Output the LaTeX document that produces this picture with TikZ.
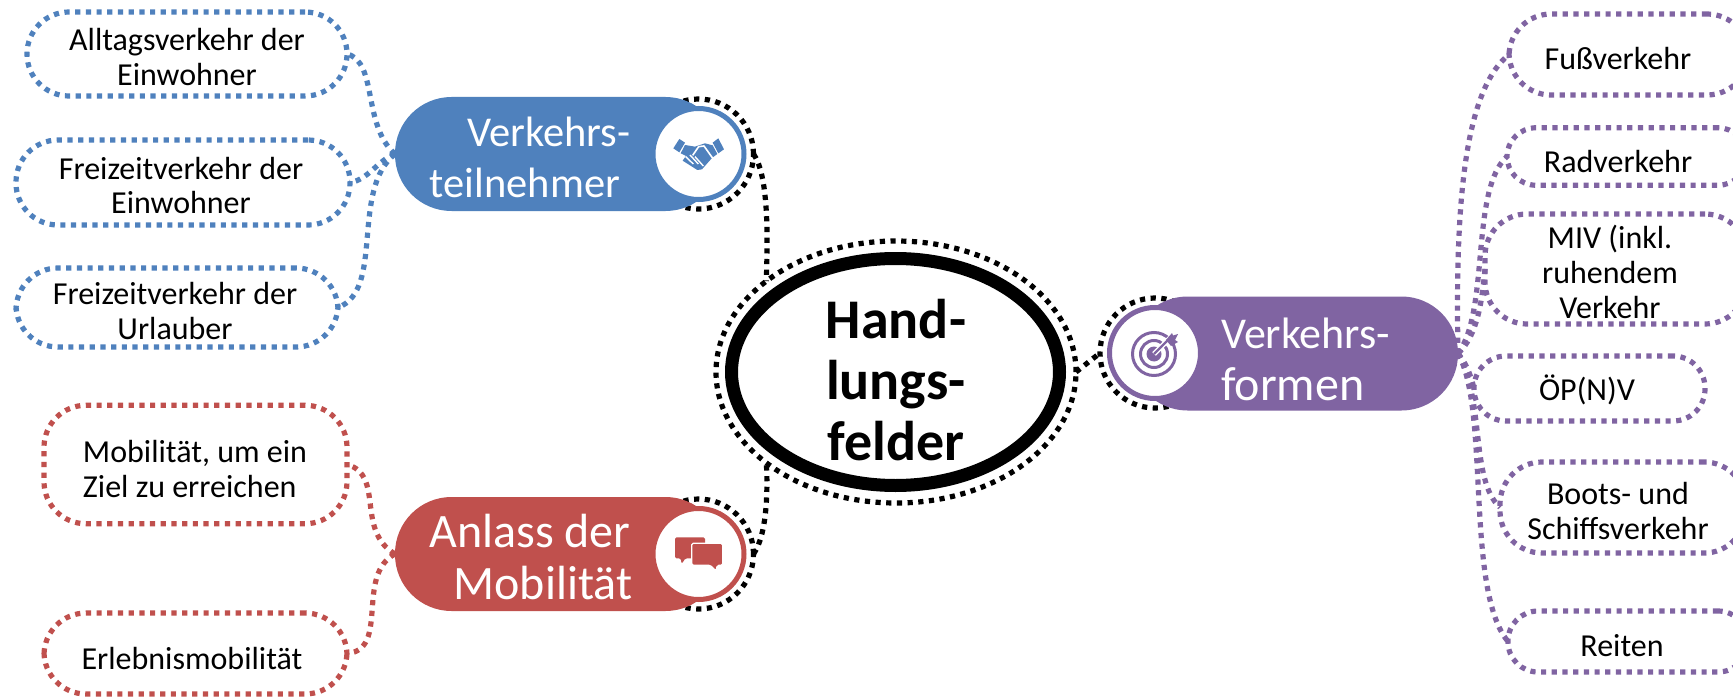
\documentclass[tikz,border=0pt]{standalone}
\usepackage{fontspec}
\setmainfont{Carlito}
\usetikzlibrary{shapes.geometric}
\definecolor{cblue}{HTML}{4F81BD}
\definecolor{cred}{HTML}{C0504D}
\definecolor{cpur}{HTML}{8064A2}
\tikzset{
  dotline/.style={line width=5.2pt,dash pattern=on 5.2pt off 5.5pt,line cap=butt},
  leaf/.style={dotline,rectangle,rounded corners=#1,inner sep=0pt,outer sep=0pt},
  leaf/.default=42pt,
  leaftext/.style={anchor=base,align=center,font=\fontsize{32}{35}\selectfont,inner sep=0pt},
  pill/.style={rectangle,rounded corners=56.5pt,inner sep=0pt,outer sep=0pt,minimum height=114pt},
  pilltext/.style={anchor=base,text=white,font=\fontsize{42.5}{51}\selectfont,inner sep=0pt},
  disc/.style={circle,fill=white,line width=5pt,inner sep=0pt,outer sep=0pt,minimum size=91pt},
  halo/.style={circle,draw=black,dotline,inner sep=0pt,outer sep=0pt,minimum size=110pt},
}
\begin{document}
\begin{tikzpicture}[x=1pt,y=-1pt]
\clip (0,0) rectangle (1733,698);
\fill[white] (0,0) rectangle (1733,698);
% leaf boxes, blue
\node[leaf,draw=cblue,minimum width=320pt,minimum height=84pt] (alltag) at (187,54) {};
\node[leaf,draw=cblue,minimum width=334pt,minimum height=85pt] (frei) at (183,182.5) {};
\node[leaf,draw=cblue,minimum width=322pt,minimum height=79pt] (urlaub) at (177,307.5) {};
\node[leaftext] (talltag) at (187,86) {Alltagsverkehr der\\Einwohner};
\node[leaftext] (tfrei) at (181,214) {Freizeitverkehr der\\Einwohner};
\node[leaftext] (turlaub) at (175,339) {Freizeitverkehr der\\Urlauber};
% leaf boxes, red
\node[leaf,draw=cred,minimum width=303pt,minimum height=118.5pt] (mobil) at (195.5,464.5) {};
\node[leaf,draw=cred,minimum width=303pt,minimum height=81pt] (erleb) at (195.5,653.5) {};
\node[leaftext,align=left] (tmobil) at (195,497) {Mobilität, um ein\\Ziel zu erreichen};
\node[leaftext] (terleb) at (192,669) {Erlebnismobilität};
% leaf boxes, purple
\node[leaf,draw=cpur,minimum width=240pt,minimum height=81pt] (fuss) at (1629,54.5) {};
\node[leaf=29pt,draw=cpur,minimum width=240pt,minimum height=57.5pt] (rad) at (1627,156.5) {};
\node[leaf,draw=cpur,minimum width=262pt,minimum height=110pt] (miv) at (1616,269) {};
\node[leaf=32pt,draw=cpur,minimum width=231pt,minimum height=65pt] (oep) at (1589.5,388.5) {};
\node[leaf,draw=cpur,minimum width=246pt,minimum height=91pt] (boots) at (1623,507.5) {};
\node[leaf=30pt,draw=cpur,minimum width=240pt,minimum height=61pt] (reiten) at (1628,641.5) {};
\node[leaftext] (tfuss) at (1618,70) {Fußverkehr};
\node[leaftext] (trad) at (1618,172) {Radverkehr};
\node[leaftext] (tmiv) at (1610,318) {MIV (inkl.\\ruhendem\\Verkehr};
\node[leaftext] (toep) at (1587,400) {ÖP(N)V};
\node[leaftext] (tboots) at (1618,539) {Boots- und\\Schiffsverkehr};
\node[leaftext] (treiten) at (1622,656) {Reiten};
% central ellipse
\node[ellipse,draw=black,dotline,inner sep=0pt,outer sep=0pt,minimum width=360pt,minimum height=262pt] (hof) at (896,372) {};
\node[ellipse,draw=black,line width=13pt,fill=white,inner sep=0pt,outer sep=0pt,minimum width=328pt,minimum height=227pt] (kern) at (895.5,372) {};
\node[anchor=base,align=center,inner sep=0pt,font=\fontsize{56}{61}\selectfont\bfseries] (tkern) at (896,460) {Hand-\\lungs-\\felder};
% halos and connectors
\node[halo] (haloB) at (698.5,154) {};
\node[halo] (haloR) at (698.5,554) {};
\node[halo] (haloP) at (1155,353) {};
\draw[dotline,draw=black] (haloB.east) .. controls (768,175) and (768,230) .. (hof.145);
\draw[dotline,draw=black] (haloR.east) .. controls (767,535) and (768,490) .. (hof.215);
\draw[dotline,draw=black] (hof.east) -- (haloP.west);
% pills
\node[pill,fill=cblue,minimum width=327pt] (pB) at (558.5,154) {};
\node[pill,fill=cred,minimum width=327pt] (pR) at (558.5,554) {};
\node[pill,fill=cpur,minimum width=327pt] (pP) at (1294.5,353.5) {};
\node[pilltext,align=center] (tB) at (525,197) {\hspace*{48pt}Verkehrs-\\teilnehmer};
\node[pilltext,align=center,font=\fontsize{48}{52}\selectfont] (tR) at (530,599) {Anlass der\\\hspace*{26pt}Mobilität};
\node[pilltext,align=left,anchor=base west,font=\fontsize{44}{52}\selectfont] (tP) at (1221,400) {Verkehrs-\\{\fontsize{48}{52}\selectfont formen}};
% tree connectors
\draw[dotline,draw=cblue] (pB.west) .. controls (362,125) and (378,62) .. (alltag.east);
\draw[dotline,draw=cblue] (pB.west) .. controls (378,160) and (368,180) .. (frei.east);
\draw[dotline,draw=cblue] (pB.west) .. controls (350,190) and (385,290) .. (urlaub.east);
\draw[dotline,draw=cred] (pR.west) .. controls (355,530) and (385,475) .. (mobil.east);
\draw[dotline,draw=cred] (pR.west) .. controls (355,575) and (390,650) .. (erleb.east);
\draw[dotline,draw=cpur] (pP.east) .. controls (1455,200) and (1465,90) .. (fuss.west);
\draw[dotline,draw=cpur] (pP.east) .. controls (1490,310) and (1470,190) .. (rad.west);
\draw[dotline,draw=cpur] (pP.east) .. controls (1478,335) and (1482,300) .. (miv.west);
\draw[dotline,draw=cpur] (pP.east) .. controls (1465,362) and (1470,372) .. (oep.west);
\draw[dotline,draw=cpur] (pP.east) .. controls (1485,400) and (1470,480) .. (boots.west);
\draw[dotline,draw=cpur] (pP.east) .. controls (1490,410) and (1465,590) .. (reiten.west);
% discs
\node[disc,draw=cblue] (dB) at (698.5,154) {};
\node[disc,draw=cred] (dR) at (698.5,554) {};
\node[disc,draw=cpur] (dP) at (1155,353) {};
% handshake icon (px of a 3x crop at 640,90)
\begin{scope}[shift={(640,90)},x=0.3333pt,y=-0.3333pt]
\fill[cblue] (100,175)--(118,147)--(135,158)--(118,187)--cycle;
\fill[cblue] (218,158)--(235,145)--(252,178)--(235,190)--cycle;
\fill[cblue] (135,165)--(165,170)--(195,160)--(218,166)--(232,192)--(216,204)--(186,238)--(172,240)--(128,212)--(138,198)--(122,190)--cycle;
\draw[white,line width=1.6pt,line join=round] (158,196)--(176,170)--(192,168)--(219,206);
\draw[white,line width=1.4pt] (137,200)--(160,222) (150,195)--(175,222) (165,200)--(190,228);
\end{scope}
% speech bubbles icon (px of a 3x crop at 640,490)
\begin{scope}[shift={(640,490)},x=0.3333pt,y=-0.3333pt]
\fill[cred,rounded corners=1.5pt] (105,142)--(195,142)--(195,205)--(136,205)--(125,222)--(122,205)--(105,205)--cycle;
\filldraw[fill=cred,draw=white,line width=1.3pt,rounded corners=1.5pt] (155,160)--(248,160)--(248,226)--(232,226)--(228,243)--(211,226)--(155,226)--cycle;
\end{scope}
% target icon
\begin{scope}[shift={(1154,354)}]
\draw[cpur,line width=3pt] (0,0) circle (21.5pt);
\draw[cpur,line width=3pt] (0,0) circle (13.5pt);
\fill[cpur] (0,0) circle (7.5pt);
\draw[white,line width=5pt] (0,0)--(16,-16);
\draw[cpur,line width=2.2pt] (0,0)--(16,-16);
\fill[cpur] (12,-14)--(18,-21)--(19,-18.5)--(24,-20)--(21,-14)--(24,-12)--(17,-8)--cycle;
\end{scope}
\end{tikzpicture}
\end{document}
